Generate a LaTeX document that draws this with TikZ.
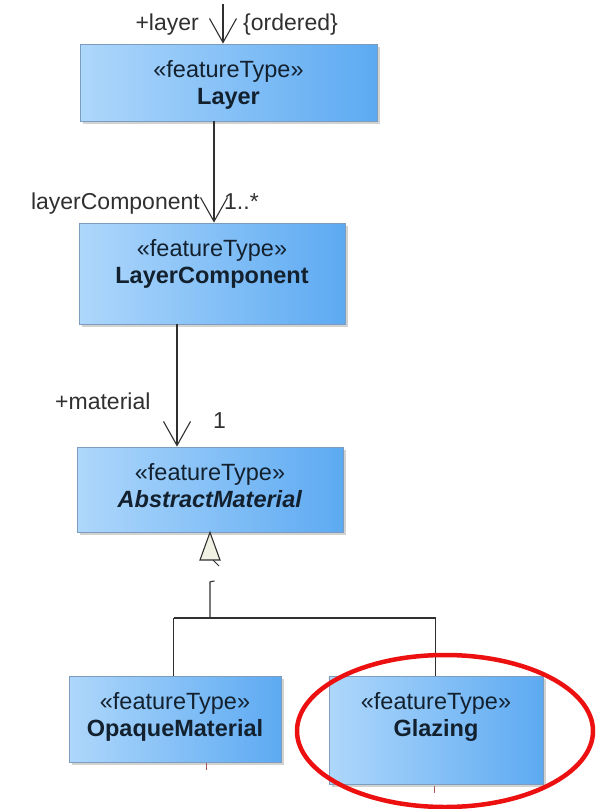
\documentclass[tikz,border=0pt]{standalone}
\usepackage{fontspec}
\setmainfont{Liberation Sans}
\usetikzlibrary{arrows.meta,calc,shadows}
\definecolor{boxL}{HTML}{AED7FB}
\definecolor{boxR}{HTML}{5DAAF2}
\definecolor{boxB}{HTML}{7C9DBE}
\definecolor{txt}{HTML}{13202E}
\definecolor{lin}{HTML}{303030}
\definecolor{ring}{HTML}{EC1010}
\definecolor{tick}{HTML}{A85858}
\definecolor{triFill}{HTML}{F2F2E4}
\begin{document}
\begin{tikzpicture}[x=1pt,y=-1pt,
  classbox/.style={rectangle, draw=boxB, line width=0.8pt, left color=boxL, right color=boxR,
    inner sep=0pt, drop shadow={shadow xshift=3pt, shadow yshift=-3pt, fill=gray, opacity=0.35}},
  boxtext/.style={anchor=base, text=txt, inner sep=0pt, font=\fontsize{23.5}{27}\selectfont},
  lbl/.style={text=lin, inner sep=0pt, font=\fontsize{23}{27}\selectfont},
  assoc/.style={draw=lin, line width=1.1pt, -{Straight Barb[length=24pt,width=27pt,line width=1.1pt]}},
  conn/.style={draw=lin, line width=1.1pt}
]
\useasboundingbox (0,0) rectangle (596,809);
\fill[white] (0,0) rectangle (596,809);

% boxes
\node[classbox, minimum width=297pt, minimum height=77pt] (layer) at (228.5,82.5) {};
\node[classbox, minimum width=266pt, minimum height=101pt] (lc) at (212,273.5) {};
\node[classbox, minimum width=266pt, minimum height=85pt] (am) at (210,489.5) {};
\node[classbox, minimum width=212pt, minimum height=86pt] (op) at (175,719) {};
\node[classbox, minimum width=214pt, minimum height=108pt] (gl) at (436,730) {};

% box texts
\node[boxtext] (layerS) at (228.5,77) {«featureType»};
\node[boxtext] (layerN) at (228.5,104) {\textbf{Layer}};
\node[boxtext] (lcS) at (212,256) {«featureType»};
\node[boxtext] (lcN) at (212,283) {\textbf{LayerComponent}};
\node[boxtext] (amS) at (210,480) {«featureType»};
\node[boxtext] (amN) at (210,507) {\textbf{\itshape AbstractMaterial}};
\node[boxtext] (opS) at (175,709) {«featureType»};
\node[boxtext] (opN) at (175,736) {\textbf{OpaqueMaterial}};
\node[boxtext] (glS) at (436,709) {«featureType»};
\node[boxtext] (glN) at (436,736) {\textbf{Glazing}};

% associations
\coordinate (topstart) at (223,4);
\draw[assoc] (topstart) -- (topstart |- layer.north);
\coordinate (c1) at (214,0);
\draw[assoc] (c1 |- layer.south) -- (c1 |- lc.north);
\coordinate (c2) at (177,0);
\draw[assoc] (c2 |- lc.south) -- (c2 |- am.north);

% labels
\node[lbl, anchor=base east] (l1) at (199,30) {+layer};
\node[lbl, anchor=base west] (l2) at (243,30) {\{ordered\}};
\node[lbl, anchor=base east] (l3) at (200,209) {layerComponent};
\node[lbl, anchor=base west] (l4) at (224,209) {1..*};
\node[lbl, anchor=base west] (l5) at (55,409) {+material};
\node[lbl, anchor=base west] (l6) at (213,428) {1};

% generalization
\coordinate (gtip) at (210,0);
\draw[conn, fill=triFill, line join=miter] (gtip |- am.south) -- (220,560) -- (200,560) -- cycle;
\draw[conn, line width=0.9pt] (213,560) -- (219,566);
\coordinate (gtop) at (210,582);
\coordinate (gjoin) at (210,618);
\coordinate (gl1) at (173.6,618);
\coordinate (gr1) at (435.6,618);
\draw[conn] (214.5,581) .. controls (211,581.5) .. (gtop) -- (gjoin);
\draw[conn] (gl1) -- (gr1);
\draw[conn] (gl1) -- (gl1 |- op.north);
\draw[conn] (gr1) -- (gr1 |- gl.north);

% small marks
\draw[tick, line width=1pt] (206,763) -- (206,770);
\draw[tick, line width=1pt] (434,786) -- (434,793);

% highlight ring
\draw[ring, line width=4.5pt] (445,731) ellipse [x radius=148pt, y radius=76pt];
\end{tikzpicture}
\end{document}
